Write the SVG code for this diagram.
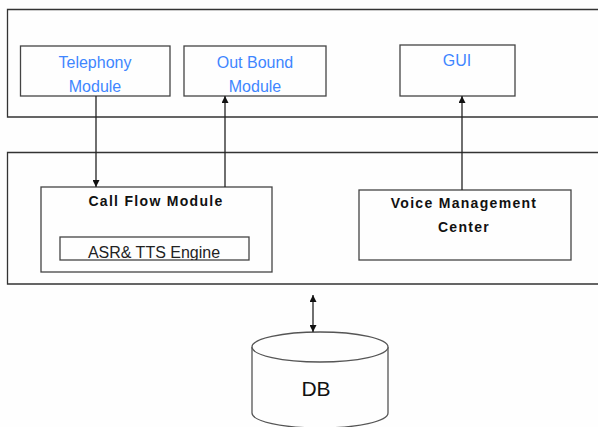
<svg xmlns="http://www.w3.org/2000/svg" width="598" height="427" viewBox="0 0 598 427">
<defs>
<style>
.box{fill:none;stroke:#444;stroke-width:1.3}
.cont{fill:none;stroke:#333;stroke-width:1.3}
.blue{font-family:"Liberation Sans",Arial,sans-serif;font-size:16px;fill:#3f86ff;text-anchor:middle}
.bold{font-family:"Liberation Sans",Arial,sans-serif;font-size:14px;font-weight:bold;fill:#111;text-anchor:middle;letter-spacing:1.3px}
.reg{font-family:"Liberation Sans",Arial,sans-serif;font-size:16px;fill:#222;text-anchor:middle}
.conn{stroke:#222;stroke-width:1.3;fill:none}
</style>
<marker id="ah" viewBox="0 0 10 10" refX="10" refY="5" markerWidth="7" markerHeight="7" orient="auto-start-reverse" markerUnits="userSpaceOnUse">
<path d="M0,0 L10,5 L0,10 z" fill="#111"/>
</marker>
<clipPath id="asrclip"><rect x="60" y="237" width="189" height="23"/></clipPath>
</defs>
<rect width="598" height="427" fill="#fefefe"/>
<g id="top-layer"><path class="cont" d="M600,9.5 H7.5 V117 H600"/></g>
<g id="middle-layer"><path class="cont" d="M600,152.5 H7.5 V284 H600"/></g>
<g id="telephony">
<rect class="box" x="20.5" y="46" width="149.5" height="50"/>
<text class="blue" x="95" y="68">Telephony</text>
<text class="blue" x="95" y="92">Module</text>
</g>
<g id="outbound">
<rect class="box" x="184" y="46" width="142" height="50"/>
<text class="blue" x="255" y="68">Out Bound</text>
<text class="blue" x="255" y="92">Module</text>
</g>
<g id="gui">
<rect class="box" x="400" y="45" width="115" height="51"/>
<text class="blue" x="457" y="66">GUI</text>
</g>
<g id="callflow">
<rect class="box" x="41" y="187" width="231" height="85"/>
<text class="bold" x="156" y="206">Call Flow Module</text>
</g>
<g id="asr">
<rect class="box" x="60" y="237" width="189" height="23"/>
<text class="reg" x="154" y="258" clip-path="url(#asrclip)">ASR&amp; TTS Engine</text>
</g>
<g id="vmc">
<rect class="box" x="359" y="190" width="212" height="70"/>
<text class="bold" x="464" y="208">Voice Management</text>
<text class="bold" x="464" y="232">Center</text>
</g>
<g id="db">
<path d="M252,347 V413 A68,15 0 0 0 388,413 V347" fill="#fefefe" stroke="#555" stroke-width="1.3"/>
<ellipse cx="320" cy="347" rx="68" ry="15" fill="#fefefe" stroke="#555" stroke-width="1.3"/>
<text x="316" y="396" font-family="'Liberation Sans',Arial,sans-serif" font-size="21" fill="#111" text-anchor="middle">DB</text>
</g>
<g id="connectors">
<line class="conn" x1="96" y1="96" x2="96" y2="187" marker-end="url(#ah)"/>
<line class="conn" x1="225" y1="187" x2="225" y2="96" marker-end="url(#ah)"/>
<line class="conn" x1="462" y1="190" x2="462" y2="96" marker-end="url(#ah)"/>
<line class="conn" x1="313" y1="295" x2="313" y2="332" marker-start="url(#ah)" marker-end="url(#ah)"/>
</g>
</svg>
